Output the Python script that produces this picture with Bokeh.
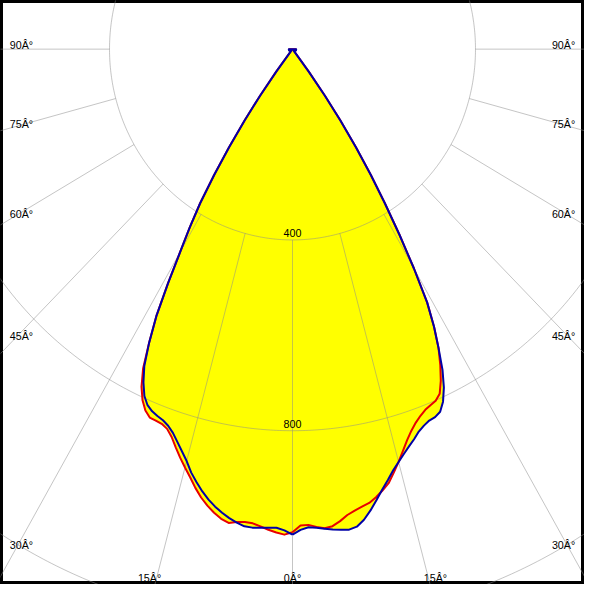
import numpy as np
from bokeh.plotting import figure
from bokeh.models import Range1d, ColumnDataSource
from bokeh.core.properties import value
from bokeh.embed import file_html
from bokeh.resources import INLINE

# ---------------- data (luminous intensity, cd) ----------------
gamma_deg = list(range(0, 39)) + [40, 45, 50, 55, 60, 65, 70, 75, 80, 85, 90]

# C90 / C270 plane (blue)
blue_right = [1018, 1008, 1003, 1005, 1008, 1011, 1013, 1015, 1011, 999,
              982, 963, 944, 927, 910, 896, 883, 871, 860, 848,
              840, 834, 832, 826, 809, 783, 748, 703, 659, 607,
              531, 454, 381, 314, 248, 182, 120, 59, 8,
              4, 4, 5, 5, 6, 7, 8, 8, 8, 8, 8]
blue_left = [1018, 1009, 1004, 1005, 1006, 1007, 1006, 1000, 993, 984,
             974, 962, 948, 932, 915, 894, 877, 861, 846, 835,
             828, 824, 819, 811, 796, 771, 739, 690, 634, 561,
             491, 436, 381, 314, 248, 182, 120, 59, 8,
             4, 4, 5, 5, 6, 7, 8, 8, 8, 8, 8]

# C0 / C180 plane (red)
red_right = [1013, 999, 998, 1003, 1007, 1004, 995, 984, 977, 971,
             966, 957, 946, 934, 915, 896, 876, 857, 841, 828,
             818, 810, 805, 801, 791, 767, 737, 703, 659, 607,
             531, 454, 381, 314, 248, 182, 120, 59, 7,
             3, 3, 4, 4, 5, 6, 7, 7, 7, 7, 7]
red_left = [1013, 1018, 1014, 1009, 1003, 998, 997, 999, 1003, 997,
            987, 975, 961, 944, 925, 908, 891, 873, 855, 842,
            836, 834, 833, 823, 806, 781, 745, 690, 634, 561,
            491, 436, 381, 314, 248, 182, 120, 59, 7,
            3, 3, 4, 4, 5, 6, 7, 7, 7, 7, 7]

ring_values = [400, 800, 1200]
ring_labels = ["400", "800"]
spoke_angles = [-90, -75, -60, -45, -30, -15, 0, 15, 30, 45, 60, 75, 90]
angle_tick_values = [0, 15, 30, 45, 60, 75, 90]

# ---------------- helpers ----------------
def polar_xy(gam, inten, side):
    g = np.radians(np.asarray(gam, dtype=float))
    i = np.asarray(inten, dtype=float)
    return side * i * np.sin(g), -i * np.cos(g)


def closed_curve(left, right):
    xl, yl = polar_xy(gamma_deg, left, -1)
    xr, yr = polar_xy(gamma_deg, right, 1)
    xs = np.concatenate([xl, xr[::-1], xl[:1]])
    ys = np.concatenate([yl, yr[::-1], yl[:1]])
    return xs, ys


XR = 638.3
p = figure(width=584, height=584,
           x_range=Range1d(-XR, XR), y_range=Range1d(-1122.4, 102.0),
           toolbar_location=None, output_backend="svg",
           x_axis_type=None, y_axis_type=None, min_border=0)
p.grid.visible = False
p.background_fill_color = "white"
p.border_fill_color = "white"
p.outline_line_color = "black"
p.outline_line_width = 5

red_x, red_y = closed_curve(red_left, red_right)
blue_x, blue_y = closed_curve(blue_left, blue_right)

# yellow fill (union of both planes)
p.patch(red_x, red_y, fill_color="#ffff00", line_color=None)
p.patch(blue_x, blue_y, fill_color="#ffff00", line_color=None)

# grid: rings and spokes
th = np.radians(np.linspace(0, 360, 721))
ring_xs = [list(r * np.sin(th)) for r in ring_values]
ring_ys = [list(-r * np.cos(th)) for r in ring_values]
p.multi_line(ring_xs, ring_ys, line_color="#8c8c8c", line_alpha=0.5, line_width=1)

r0, r1 = ring_values[0], 3000
sp_xs = [[r0 * np.sin(np.radians(a)), r1 * np.sin(np.radians(a))] for a in spoke_angles]
sp_ys = [[-r0 * np.cos(np.radians(a)), -r1 * np.cos(np.radians(a))] for a in spoke_angles]
p.multi_line(sp_xs, sp_ys, line_color="#8c8c8c", line_alpha=0.5, line_width=1)

# curves
p.line(red_x, red_y, line_color="#e80000", line_width=2, line_join="round")
p.line(blue_x, blue_y, line_color="#0000a8", line_width=2, line_join="round")

# ring labels
p.text(x=[0] * len(ring_labels),
       y=[-(v - 15) for v in ring_values[:len(ring_labels)]],
       text=ring_labels, text_align="center", text_baseline="middle",
       text_font=value("Liberation Sans"), text_font_size="10.7px",
       text_color="black")

# angle labels placed along the frame edge
x_edge = 618.0
y_edge = -1108.0
lx, ly, lt, la = [], [], [], []
for a in angle_tick_values:
    sides = [1] if a == 0 else [-1, 1]
    for s in sides:
        tp = np.radians(a + 0.75) if a != 0 else 0.0
        sn, cs = np.sin(tp), np.cos(tp)
        t_side = x_edge / sn if sn > 1e-9 else np.inf
        t_bot = -y_edge / cs if cs > 1e-9 else np.inf
        txt = f"{a}\u00c2\u00b0"
        if t_side < t_bot:
            lx.append(s * x_edge)
            ly.append(-t_side * cs)
            la.append("left" if s < 0 else "right")
        else:
            lx.append(s * t_bot * sn)
            ly.append(y_edge)
            la.append("center")
        lt.append(txt)

src = ColumnDataSource(dict(x=lx, y=ly, text=lt, align=la))
p.text(x="x", y="y", text="text", text_align="align", source=src,
       text_baseline="alphabetic",
       text_font=value("Liberation Sans"), text_font_size="10.7px",
       text_color="black")

html = file_html(p, INLINE)
with open("out.html", "w", encoding="utf-8") as f:
    f.write(html)
